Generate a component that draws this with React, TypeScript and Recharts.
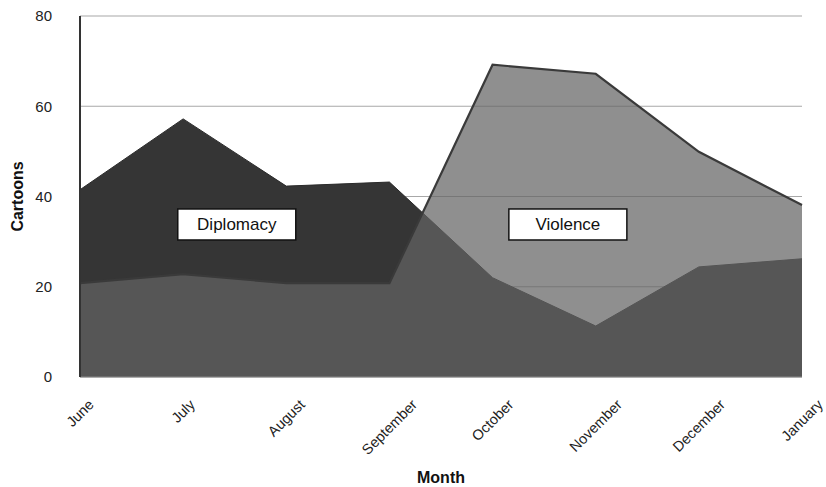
import React from 'react';
import { AreaChart, Area, XAxis, YAxis, CartesianGrid, ReferenceDot } from 'recharts';

const months = ['June', 'July', 'August', 'September', 'October', 'November', 'December', 'January'];
const diplomacy = [41.5, 57.2, 42.3, 43.2, 22, 11.3, 24.4, 26.2];
const violence = [20.8, 22.8, 20.8, 20.8, 69.2, 67.2, 49.9, 38.1];
const yTicks = [0, 20, 40, 60, 80];

const data = months.map((m, i) => ({ idx: i, month: m, diplomacy: diplomacy[i], violence: violence[i] }));

const annotations = [
  { text: 'Diplomacy', x: 1.52, y: 33.8 },
  { text: 'Violence', x: 4.73, y: 33.8 },
];

const FONT = '"Liberation Sans", Arial, Helvetica, sans-serif';
const TICK_SIZE = 14.5;

let ctx: CanvasRenderingContext2D | null = null;
const measure = (s: string) => {
  try {
    if (!ctx) ctx = document.createElement('canvas').getContext('2d');
    if (ctx) {
      ctx.font = `${TICK_SIZE}px "Liberation Sans", Arial, sans-serif`;
      return ctx.measureText(s).width;
    }
  } catch (e) {}
  return s.length * TICK_SIZE * 0.55;
};

const XTick = (props: any) => {
  const { x, y, payload } = props;
  const label = months[payload.value];
  const w = measure(label);
  const h = (w / 2) * 0.7071;
  const cx = x;
  const cy = y + 17 + h;
  return (
    <text
      x={cx}
      y={cy}
      transform={`rotate(-45, ${cx}, ${cy})`}
      textAnchor="middle"
      dominantBaseline="central"
      fontSize={TICK_SIZE}
      fontFamily={FONT}
      fill="#222"
    >
      {label}
    </text>
  );
};

const LabelBox = (text: string) => (p: any) => {
  const { cx, cy } = p;
  return (
    <g>
      <rect x={cx - 59} y={cy - 15.5} width={118} height={31} fill="#fff" stroke="#111" strokeWidth={1.5} />
      <text x={cx} y={cy + 6} textAnchor="middle" fontSize={17} fontFamily={FONT} fill="#111">
        {text}
      </text>
    </g>
  );
};

export default function App() {
  return (
    <div style={{ width: 826, height: 487 }}>
      <style>{`body { margin: 0; overflow: hidden; }`}</style>
      <AreaChart
        width={826}
        height={487}
        data={data}
        margin={{ top: 16, right: 24, left: 0, bottom: 0 }}
      >
        <CartesianGrid vertical={false} stroke="#a8a8a8" strokeWidth={1.2} />
        <XAxis
          dataKey="idx"
          type="number"
          domain={[0, 7]}
          ticks={[0, 1, 2, 3, 4, 5, 6, 7]}
          interval={0}
          tick={<XTick />}
          tickLine={false}
          axisLine={{ stroke: '#888', strokeWidth: 1 }}
          height={110}
          label={{
            content: (p: any) => {
              const vb = p.viewBox;
              return (
                <text x={vb.x + vb.width / 2} y={vb.y + 106} textAnchor="middle" fontSize={16} fontWeight="bold" fontFamily={FONT} fill="#111">
                  Month
                </text>
              );
            },
          }}
        />
        <YAxis
          type="number"
          domain={[0, 80]}
          ticks={yTicks}
          width={80}
          tickLine={false}
          axisLine={{ stroke: '#333', strokeWidth: 2 }}
          tick={{ fontSize: 15, fontFamily: FONT, fill: '#222' }}
          tickMargin={22}
          label={{
            content: (p: any) => {
              const vb = p.viewBox;
              const cx = 23;
              const cy = vb.y + vb.height / 2;
              return (
                <text x={cx} y={cy} transform={`rotate(-90, ${cx}, ${cy})`} textAnchor="middle" fontSize={16} fontWeight="bold" fontFamily={FONT} fill="#111">
                  Cartoons
                </text>
              );
            },
          }}
        />
        <Area
          type="linear"
          dataKey="diplomacy"
          stroke="#2a2a2a"
          strokeWidth={1}
          fill="#353535"
          fillOpacity={1}
          isAnimationActive={false}
          dot={false}
          activeDot={false}
        />
        <Area
          type="linear"
          dataKey="violence"
          stroke="#3a3a3a"
          strokeWidth={2.2}
          fill="#646464"
          fillOpacity={0.72}
          isAnimationActive={false}
          dot={false}
          activeDot={false}
        />
        {annotations.map((a) => (
          <ReferenceDot key={a.text} x={a.x} y={a.y} r={0} shape={LabelBox(a.text)} />
        ))}
      </AreaChart>
    </div>
  );
}
